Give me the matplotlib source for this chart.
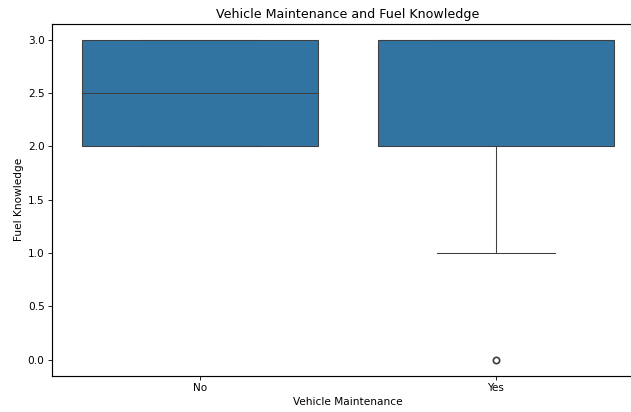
import pandas as pd
import numpy as np
import matplotlib.pyplot as plt
import seaborn as sns

# Survey answers (fuel knowledge score by maintenance group)
no_scores = [2, 2, 3, 3]
yes_scores = [0, 1, 2, 2, 2, 3, 3, 3, 3, 3, 3, 3, 3, 3, 3, 3]

df = pd.DataFrame({
    'Vehicle Maintenance': ['No'] * len(no_scores) + ['Yes'] * len(yes_scores),
    'Fuel Knowledge': no_scores + yes_scores,
})

dpi = 76
fig, ax = plt.subplots(figsize=(631 / dpi, 412 / dpi), dpi=dpi)

sns.boxplot(
    data=df,
    x='Vehicle Maintenance',
    y='Fuel Knowledge',
    order=['No', 'Yes'],
    flierprops={'markeredgewidth': 1.6},
    ax=ax
)

ax.set_title('Vehicle Maintenance and Fuel Knowledge')
for s in ax.spines.values():
    s.set_linewidth(1.1)

# axes run past the right edge, as in the cropped original
plt.subplots_adjust(left=52 / 631, right=644 / 631, top=1 - 24 / 412, bottom=1 - 375.5 / 412)
plt.savefig('out.png', dpi=dpi)
